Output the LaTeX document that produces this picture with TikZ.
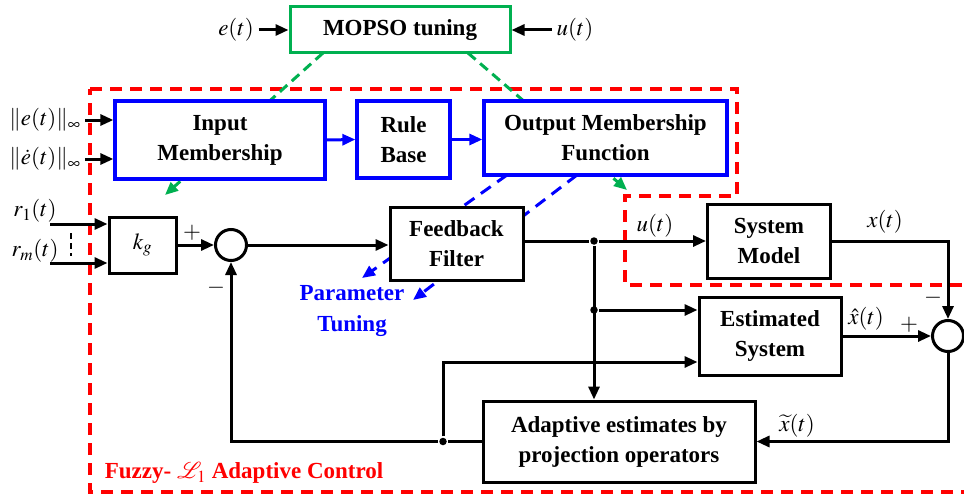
\documentclass[tikz,border=0pt]{standalone}
\usepackage{mathptmx}
\usepackage{fontspec}
\setmainfont{Liberation Serif}
\usetikzlibrary{arrows.meta,calc}
\definecolor{mgreen}{RGB}{0,176,80}

\begin{document}
\begin{tikzpicture}[x=1pt,y=-1pt,line width=3pt,>={Triangle[length=13pt,width=11pt]},
        every node/.style={font=\fontsize{23}{29}\selectfont},
        b/.style={draw=black,fill=white,align=center,font=\fontsize{23}{30}\selectfont\bfseries},
        fz/.style={b,draw=blue,line width=3.3pt},
        sm/.style={circle,draw=black,fill=white,minimum size=31pt,inner sep=0pt},
        jn/.style={circle,fill=black,inner sep=0pt,minimum size=7.5pt},
        reddash/.style={draw=red,line width=3.6pt,dash pattern=on 12pt off 8pt},
        gdash/.style={draw=mgreen,dash pattern=on 10pt off 6pt},
        bdash/.style={draw=blue,dash pattern=on 12pt off 8pt}]
                \useasboundingbox (0,0) rectangle (964,495);

                \draw[reddash] (90,89) -- (737,89) -- (737,196) -- (625,196) -- (625,285)
                        -- (968,285) -- (968,492) -- (90,492) -- cycle;

                \coordinate (g1s) at (323,53);
                \coordinate (g1e) at (165,195);
                \coordinate (g2s) at (468,53);
                \coordinate (g2e) at (627,190);
                \coordinate (b1s) at (507,175);
                \coordinate (b1e) at (362,278);
                \coordinate (b2s) at (577,175);
                \coordinate (b2e) at (413,300);

                \draw[gdash,->,mgreen] (g1s) -- (g1e);
                \draw[gdash,->,mgreen] (g2s) -- (g2e);
                \draw[bdash,->,blue] (b1s) -- (b1e);
                \draw[bdash,->,blue] (b2s) -- (b2e);

                \node[b,draw=mgreen,minimum width=220,minimum height=46] (mopso) at (400,30) {MOPSO tuning};
                \node[fz,minimum width=210,minimum height=78] (inmem) at (220,140) {Input\\Membership};
                \node[fz,minimum width=93,minimum height=77] (rule) at (403.5,139.5) {Rule\\Base};
                \node[fz,minimum width=243,minimum height=74] (outmem) at (605.5,138) {Output Membership\\Function};
                \node[b,font=\fontsize{23}{29}\selectfont,minimum width=67,minimum height=56] (kg) at (142.5,245) {$k_g$};
                \node[sm] (sum1) at (231,245) {};
                \node[b,minimum width=133,minimum height=73] (filter) at (456.5,244) {Feedback\\Filter};
                \node[b,minimum width=123,minimum height=74] (sysmod) at (769,241) {System\\Model};
                \node[b,minimum width=142,minimum height=78] (est) at (770,336) {Estimated\\System};
                \node[sm] (sum2) at (948,336) {};
                \node[b,minimum width=272,minimum height=81] (adapt) at (619,441.5) {Adaptive estimates by\\projection operators};

                \node (et) at (236,30) {$e(t)$};
                \node (ut) at (575,30) {$u(t)$};
                \node (en) at (45,120) {$\|e(t)\|_\infty$};
                \node (edn) at (45,159) {$\|\dot{e}(t)\|_\infty$};
                \node (r1) at (35,211) {$r_1(t)$};
                \node (rm) at (35,251) {$r_m(t)$};
                \node (uu) at (655,226) {$u(t)$};
                \node (xx) at (885,222) {$x(t)$};
                \node (xh) at (866,319) {$\hat{x}(t)$};
                \node (xt) at (797,426) {$\widetilde{x}(t)$};
                \node (p1) at (192,233) {$+$};
                \node (m1) at (216,288) {$-$};
                \node (p2) at (909,325) {$+$};
                \node (m2) at (933,298) {$-$};
                \node[text=blue,align=center,font=\fontsize{23}{31}\selectfont\bfseries] (pt) at (352,311) {Parameter\\Tuning};
                \node[text=red,anchor=west,font=\fontsize{23}{29}\selectfont\bfseries] (fl) at (100,473) {Fuzzy- $\mathcal{L}_1$ Adaptive Control};

                \coordinate (r1in) at (50,224);
                \coordinate (rmin) at (50,263);
                \coordinate (dd1) at (71,233);
                \coordinate (dd2) at (71,256);
                \node[jn] (j1) at (594,241) {};
                \node[jn] (j2) at (594,310) {};
                \node[jn] (j3) at (443,441.5) {};
                \coordinate (ein) at ([yshift=-26pt]est.west);

                \draw[->] (et) -- (mopso.west);
                \draw[->] (ut) -- (mopso.east);

                \draw[->] (en.east) -- (en.east -| inmem.west);
                \draw[->] (edn.east) -- (edn.east -| inmem.west);
                \draw[blue,->] (inmem.east) -- (rule.west);
                \draw[blue,->] (rule.east) -- (rule.east -| outmem.west);

                \draw[->] (r1in) -- (r1in -| kg.west);
                \draw[->] (rmin) -- (rmin -| kg.west);
                \draw[line width=1.5pt,dash pattern=on 6pt off 4pt] (dd1) -- (dd2);

                \draw[->] (kg.east) -- (sum1.west);
                \draw[->] (sum1.east) -- (sum1.east -| filter.west);
                \draw (filter.east |- j1) -- (j1);
                \draw[->] (j1) -- (sysmod.west);
                \draw[->] (j1) -- (j1 |- adapt.north);
                \draw[->] (j2) -- (j2 -| est.west);

                \draw[->] (sysmod.east) -| (sum2.north);
                \draw[->] (est.east) -- (sum2.west);
                \draw[->] (sum2.south) |- (adapt.east);

                \draw (adapt.west) -- (j3);
                \draw[->] (j3) -| (sum1.south);
                \draw[->] (j3) |- (ein);
            \end{tikzpicture}
\end{document}
